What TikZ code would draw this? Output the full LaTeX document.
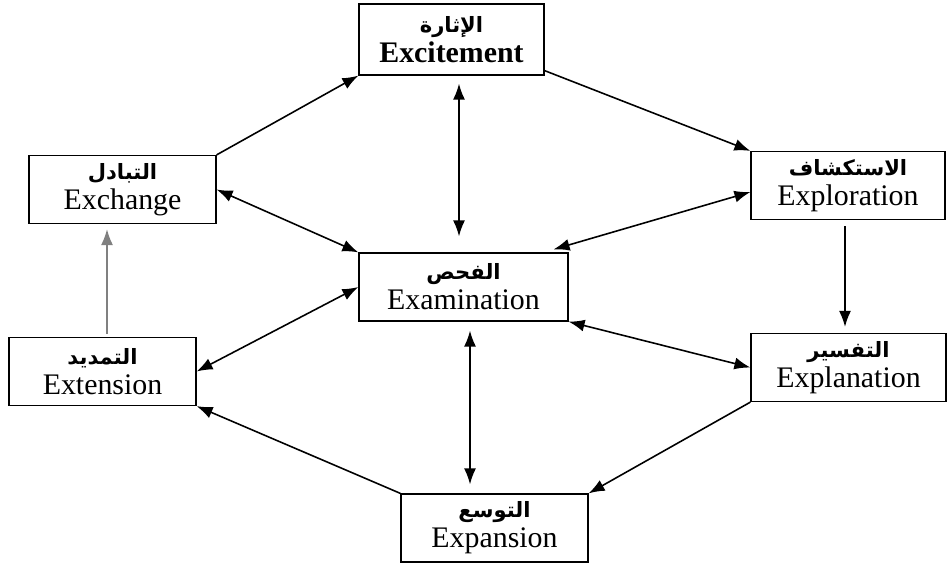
\documentclass[tikz,border=0pt]{standalone}
\usepackage{fontspec}
\setmainfont{Liberation Serif}
\newfontfamily\arabicfont[Script=Arabic]{DejaVu Sans}
\TeXXeTstate=1
\usetikzlibrary{arrows.meta}

\begin{document}
\begin{tikzpicture}[x=0.02cm, y=-0.02cm,
    stage/.style={draw, line width=0.7pt, align=center, inner sep=0pt,
      minimum height=1.36cm, font=\fontsize{17}{17}\selectfont},
    onearrow/.style={-{Latex[length=3.2mm,width=2.4mm]}, line width=0.9pt},
    twoarrow/.style={{Latex[length=3.2mm,width=2.4mm]}-{Latex[length=3.2mm,width=2.4mm]}, line width=0.9pt}]
  \useasboundingbox (0,0) rectangle (948,565);

  % the seven stages
  \node[stage, minimum width=3.70cm, minimum height=1.42cm] (excite) at (451.5,39.5)
    {{\arabicfont\bfseries\fontsize{12}{14}\selectfont\beginR الإثارة\endR}\\ \textbf{Excitement}};
  \node[stage, minimum width=3.74cm] (exch) at (122.5,189.5)
    {{\arabicfont\bfseries\fontsize{12}{14}\selectfont\beginR التبادل\endR}\\ Exchange};
  \node[stage, minimum width=3.88cm] (explor) at (848,185.5)
    {{\arabicfont\bfseries\fontsize{12}{14}\selectfont\beginR الاستكشاف\endR}\\ Exploration};
  \node[stage, minimum width=4.18cm] (exam) at (463.5,287)
    {{\arabicfont\bfseries\fontsize{12}{14}\selectfont\beginR الفحص\endR}\\ Examination};
  \node[stage, minimum width=3.74cm] (exten) at (102.5,371.5)
    {{\arabicfont\bfseries\fontsize{12}{14}\selectfont\beginR التمديد\endR}\\ Extension};
  \node[stage, minimum width=3.90cm] (explan) at (848.5,367.5)
    {{\arabicfont\bfseries\fontsize{12}{14}\selectfont\beginR التفسير\endR}\\ Explanation};
  \node[stage, minimum width=3.74cm] (expan) at (494.5,528)
    {{\arabicfont\bfseries\fontsize{12}{14}\selectfont\beginR التوسع\endR}\\ Expansion};

  % outer cycle
  \draw[onearrow] (exch.north east) -- (excite.south west);
  \draw[onearrow] ([yshift=0.1cm]excite.south east) -- (explor.north west);
  \draw[onearrow, shorten <=0.12cm, shorten >=0.12cm] ([xshift=-0.06cm]explor.south) -- ([xshift=-0.07cm]explan.north);
  \draw[onearrow] (explan.south west) -- (expan.north east);
  \draw[onearrow] (expan.north west) -- (exten.south east);
  \draw[onearrow, gray, shorten <=0.06cm, shorten >=0.1cm] ([xshift=0.09cm]exten.north) -- ([xshift=-0.31cm]exch.south);

  % links with the centre
  \draw[twoarrow, shorten <=0.16cm, shorten >=0.32cm] ([xshift=0.15cm]excite.south) -- ([xshift=-0.09cm]exam.north);
  \draw[twoarrow] (exch.east) -- (exam.north west);
  \draw[twoarrow] ([yshift=-0.13cm]explor.west) -- ([xshift=-0.3cm,yshift=0.06cm]exam.north east);
  \draw[twoarrow] (exam.south east) -- (explan.west);
  \draw[twoarrow, shorten <=0.18cm, shorten >=0.18cm] ([xshift=0.13cm]exam.south) -- ([xshift=-0.49cm]expan.north);
  \draw[twoarrow] (exam.west) -- (exten.east);
\end{tikzpicture}
\end{document}
